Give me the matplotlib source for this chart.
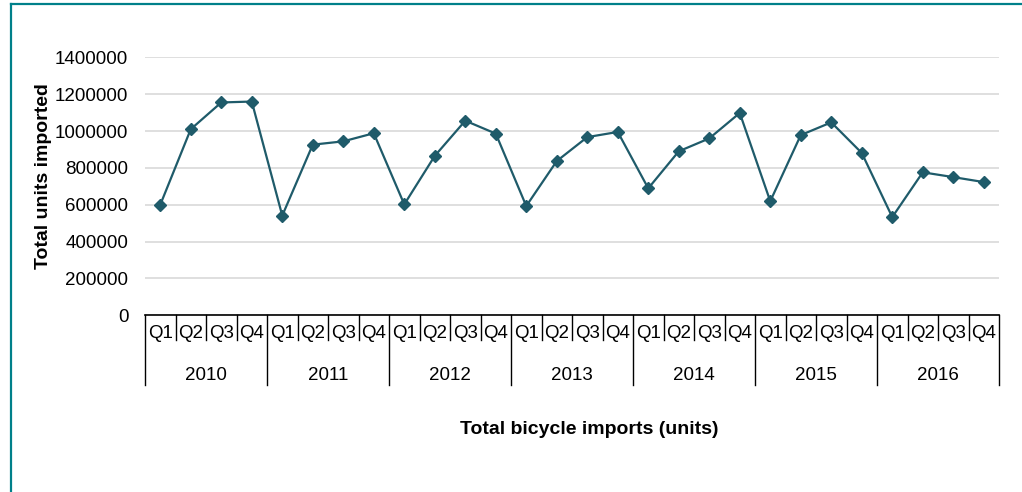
import matplotlib
matplotlib.use("Agg")
import matplotlib.pyplot as plt
import matplotlib.transforms as mtransforms
from matplotlib.lines import Line2D

plt.rcParams['font.family'] = ['Liberation Sans', 'DejaVu Sans']

years = ["2010", "2011", "2012", "2013", "2014", "2015", "2016"]
quarters = ["Q1", "Q2", "Q3", "Q4"]
imports = [
    600000, 1010000, 1155000, 1160000,
    541000, 926000, 944000, 988000,
    602000, 865000, 1056000, 986000,
    593000, 837000, 967000, 995000,
    689000, 890000, 960000, 1098000,
    619000, 978000, 1047000, 881000,
    533000, 776000, 750000, 723000,
]
y_ticks = [0, 200000, 400000, 600000, 800000, 1000000, 1200000, 1400000]

line_color = "#1F5B6A"
frame_color = "#00808A"
label_size = 13.5

fig = plt.figure(figsize=(10.22, 4.92), dpi=100)
ax = fig.add_axes([0.1419, 0.3591, 0.8356, 0.5244])

x = list(range(len(imports)))
ax.plot(x, imports, color=line_color, lw=1.6, marker="D", markersize=6,
        markerfacecolor=line_color, markeredgecolor=line_color, zorder=3)

ax.set_xlim(-0.5, len(imports) - 0.5)
ax.set_ylim(0, 1400000)
ax.set_yticks(y_ticks)
ax.set_yticklabels([str(v) for v in y_ticks], fontsize=label_size)
ax.tick_params(axis="y", length=0, pad=12)
ax.set_xticks([])
ax.grid(axis="y", color="#D9D9D9", lw=1.2)
ax.set_axisbelow(True)
for side in ("left", "right", "top"):
    ax.spines[side].set_visible(False)
ax.spines["bottom"].set_color("#000000")
ax.spines["bottom"].set_linewidth(1.2)

# Two-level category axis: quarters, then years
trans = mtransforms.blended_transform_factory(ax.transData, ax.transAxes)
q_bottom = -0.097
y_bottom = -0.271
for i in range(len(imports)):
    ax.text(i, -0.07, quarters[i % 4], transform=trans, ha="center",
            va="center", fontsize=label_size)
for i in range(len(imports) + 1):
    b = y_bottom if i % 4 == 0 else q_bottom
    ax.add_line(Line2D([i - 0.5, i - 0.5], [0, b], transform=trans,
                       color="#000000", lw=1.0, clip_on=False))
for k, yr in enumerate(years):
    ax.text(4 * k + 1.5, -0.233, yr, transform=trans, ha="center",
            va="center", fontsize=label_size)

fig.text(0.043, 0.643, "Total units imported", rotation=90, ha="center",
         va="center", fontsize=14, fontweight="bold")
fig.text(0.577, 0.128, "Total bicycle imports (units)", ha="center",
         va="center", fontsize=14, fontweight="bold")

# Frame around the chart (top and left edges)
fig.add_artist(Line2D([0.0108, 1.0], [1 - 4 / 492, 1 - 4 / 492],
                      transform=fig.transFigure, color=frame_color, lw=1.6))
fig.add_artist(Line2D([11 / 1022, 11 / 1022], [0.0, 1 - 4 / 492],
                      transform=fig.transFigure, color=frame_color, lw=1.6))

fig.savefig("out.png", dpi=100)
